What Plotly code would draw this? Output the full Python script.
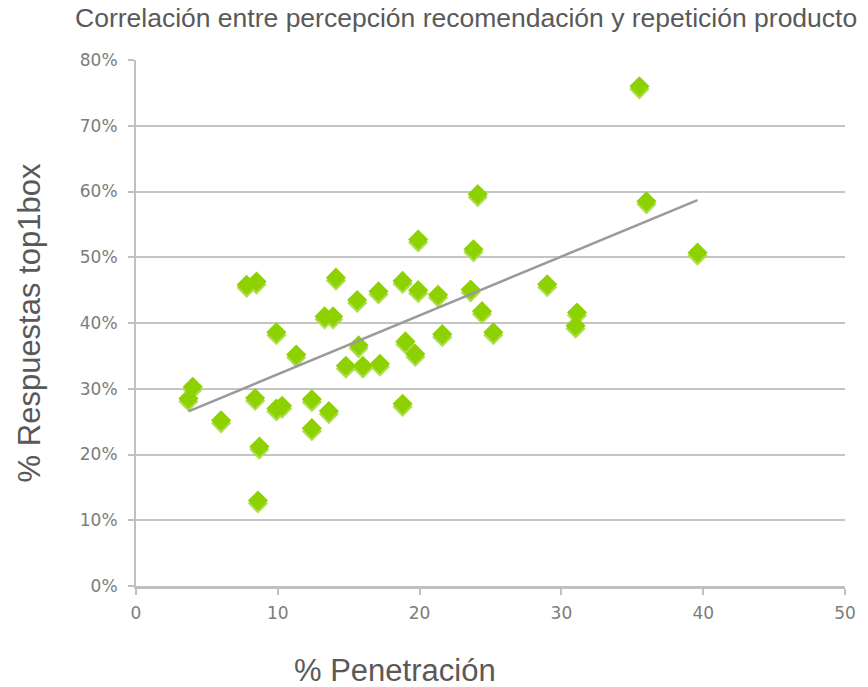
import numpy as np
import plotly.graph_objects as go

# Data (x = % Penetración, y = % Respuestas top1box)
penetracion = [3.7, 4.0, 6.0, 7.8, 8.5, 8.4, 8.7, 8.6, 9.9, 9.9, 10.3, 11.3, 12.4, 12.4,
               13.6, 13.3, 13.9, 14.1, 14.8, 15.7, 15.6, 16.0, 17.1, 17.2, 18.8, 19.0,
               19.7, 18.8, 19.9, 19.9, 21.3, 21.6, 23.6, 23.8, 24.1, 24.4, 25.2, 29.0,
               31.1, 31.0, 35.5, 36.0, 39.6]
top1box = [0.285, 0.303, 0.252, 0.458, 0.463, 0.286, 0.212, 0.130, 0.386, 0.270, 0.274,
           0.352, 0.284, 0.240, 0.266, 0.410, 0.410, 0.469, 0.335, 0.366, 0.435, 0.335,
           0.448, 0.338, 0.464, 0.372, 0.353, 0.277, 0.450, 0.527, 0.443, 0.383, 0.451,
           0.512, 0.596, 0.418, 0.386, 0.459, 0.416, 0.396, 0.760, 0.585, 0.507]

x_ticks = [0, 10, 20, 30, 40, 50]
y_ticks = [0, 0.1, 0.2, 0.3, 0.4, 0.5, 0.6, 0.7, 0.8]
y_ticklabels = ["0%", "10%", "20%", "30%", "40%", "50%", "60%", "70%", "80%"]

# linear trend line
slope, intercept = np.polyfit(penetracion, top1box, 1)
tx = np.array([min(penetracion), max(penetracion)])
ty = slope * tx + intercept

Y_RANGE = [0, 0.8]
PLOT_H = 687 - 60 - 101
shadow_shift = 3 * (Y_RANGE[1] - Y_RANGE[0]) / PLOT_H  # 3 px drop shadow

fig = go.Figure()
# soft shadow of the diamonds (same data on hidden base axis shifted 3px)
fig.add_trace(go.Scatter(
    x=penetracion, y=top1box, mode="markers", yaxis="y",
    marker=dict(symbol="diamond", size=15.5, color="#addd50", line=dict(width=0)),
    showlegend=False, hoverinfo="skip"))
fig.add_trace(go.Scatter(
    x=penetracion, y=top1box, mode="markers", yaxis="y2",
    marker=dict(symbol="diamond", size=15.5, color="#8ed100", line=dict(width=0)),
    showlegend=False, hoverinfo="x+y"))
fig.add_trace(go.Scatter(
    x=tx, y=ty, mode="lines", yaxis="y2",
    line=dict(color="#9a9a9a", width=2.5),
    showlegend=False, hoverinfo="skip"))

tickfont = dict(family="DejaVu Sans", size=17, color="#7c7c7c")
title_font = dict(family="Liberation Sans, Arial", size=31, color="#595959")
fig.update_layout(
    width=868, height=687,
    margin=dict(l=136, r=23, t=60, b=101),
    paper_bgcolor="white", plot_bgcolor="white",
    title=dict(text="Correlación entre percepción recomendación y repetición producto",
               font=dict(family="Liberation Sans, Arial", size=26.5, color="#595959"),
               x=0, xref="paper", xanchor="left", y=0.987, yanchor="top",
               pad=dict(l=-61)),
    xaxis=dict(range=[0, 50], tickvals=x_ticks, showgrid=False, zeroline=False,
               showline=True, linecolor="#c0c0c0", linewidth=3,
               ticks="outside", ticklen=6, tickcolor="#c0c0c0", tickwidth=2,
               tickfont=tickfont, ticklabelstandoff=4),
    yaxis=dict(range=[Y_RANGE[0] + shadow_shift, Y_RANGE[1] + shadow_shift],
               showgrid=False, zeroline=False, showticklabels=False, showline=False,
               ticks=""),
    yaxis2=dict(range=Y_RANGE, tickvals=y_ticks, ticktext=y_ticklabels,
                overlaying="y", side="left", anchor="x",
                showgrid=True, gridcolor="#c4c4c4", gridwidth=2, zeroline=False,
                showline=True, linecolor="#c0c0c0", linewidth=2,
                ticks="outside", ticklen=6, tickcolor="#c0c0c0", tickwidth=2,
                tickfont=tickfont, ticklabelstandoff=7,
                title=dict(text="% Respuestas top1box", font=title_font, standoff=30)),
    annotations=[dict(text="% Penetración", xref="paper", yref="paper",
                      x=0.365, y=-0.16, xanchor="center", yanchor="middle",
                      showarrow=False, font=title_font)],
)

fig.write_html("out.html")
